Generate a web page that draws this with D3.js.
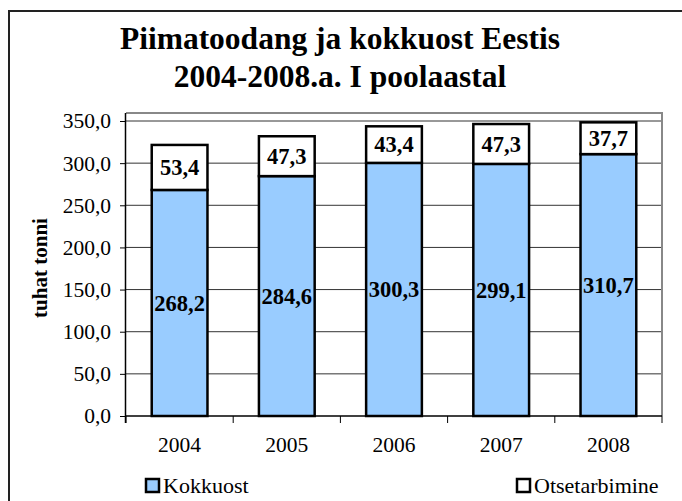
<!DOCTYPE html>
<html>
<head>
<meta charset="utf-8">
<script src="https://cdn.jsdelivr.net/npm/d3@7"></script>
<style>
  body { margin: 0; background: #fff; }
</style>
</head>
<body>
<svg id="chart" width="682" height="501" font-family="Liberation Serif"></svg>
<script>
// chart data
const years = ["2004", "2005", "2006", "2007", "2008"];
const kokkuost = [268.2, 284.6, 300.3, 299.1, 310.7];
const otsetarbimine = [53.4, 47.3, 43.4, 47.3, 37.7];
const yTicks = [0, 50, 100, 150, 200, 250, 300, 350];
const seriesNames = ["Kokkuost", "Otsetarbimine"];
const seriesColors = ["#99ccff", "#ffffff"];

const FONT = "Liberation Serif";
const svg = d3.select("#chart");
const fmt = v => d3.format(".1f")(v).replace(".", ",");

// outer frame (runs off the right and bottom edge)
svg.append("path")
    .attr("d", "M9,501 L9,11 L682,11")
    .attr("fill", "none")
    .attr("stroke", "#222")
    .attr("stroke-width", 2);

// title
const title = svg.append("text")
    .attr("text-anchor", "middle")
    .attr("font-family", FONT)
    .attr("font-size", 31.5)
    .attr("font-weight", "bold");
title.append("tspan").attr("x", 340).attr("y", 49).text("Piimatoodang ja kokkuost Eestis");
title.append("tspan").attr("x", 340).attr("y", 87).text("2004-2008.a. I poolaastal");

const plotLeft = 126, plotRight = 662, plotTop = 113, plotBottom = 416;

const x = d3.scaleBand()
    .domain(years)
    .range([plotLeft, plotRight])
    .paddingInner(0.48)
    .paddingOuter(0.24);

const y = d3.scaleLinear()
    .domain([0, 350])
    .range([plotBottom, 121]);

// gridlines
svg.append("g")
    .selectAll("line")
    .data(yTicks.filter(d => d > 0))
    .join("line")
    .attr("x1", plotLeft).attr("x2", plotRight)
    .attr("y1", d => y(d)).attr("y2", d => y(d))
    .attr("stroke", "#333")
    .attr("stroke-width", 1);

// plot area border (top and right, gray)
svg.append("path")
    .attr("d", `M${plotLeft},${plotTop} L${plotRight},${plotTop} L${plotRight},${plotBottom}`)
    .attr("fill", "none")
    .attr("stroke", "#888")
    .attr("stroke-width", 2);

// stacked bars
const stackData = years.map((yr, i) => ({ year: yr, Kokkuost: kokkuost[i], Otsetarbimine: otsetarbimine[i] }));
const stacked = d3.stack().keys(seriesNames)(stackData);

const layers = svg.append("g")
    .selectAll("g")
    .data(stacked)
    .join("g")
    .attr("fill", (d, i) => seriesColors[i]);

layers.selectAll("rect")
    .data(d => d)
    .join("rect")
    .attr("x", d => x(d.data.year))
    .attr("width", x.bandwidth())
    .attr("y", d => y(d[1]))
    .attr("height", d => y(d[0]) - y(d[1]))
    .attr("stroke", "#000")
    .attr("stroke-width", 2.5);

layers.selectAll("text")
    .data(d => d.map(v => ({ v, key: d.key })))
    .join("text")
    .attr("x", d => x(d.v.data.year) + x.bandwidth() / 2)
    .attr("y", d => (y(d.v[0]) + y(d.v[1])) / 2)
    .attr("dy", "0.35em")
    .attr("text-anchor", "middle")
    .attr("fill", "#000")
    .attr("font-family", FONT)
    .attr("font-size", 22.5)
    .attr("font-weight", "bold")
    .text(d => fmt(d.v.data[d.key]));

// y axis
const yAxis = svg.append("g")
    .attr("transform", `translate(${plotLeft},0)`)
    .call(d3.axisLeft(y).tickValues(yTicks).tickSize(6).tickPadding(9).tickFormat(fmt))
    .attr("font-family", FONT)
    .attr("font-size", 21.5);
yAxis.select(".domain").attr("stroke", "#000").attr("stroke-width", 1.5).attr("d", `M-0.5,${plotBottom + 7}V${plotTop}`);
yAxis.selectAll(".tick line").attr("stroke", "#000");
yAxis.selectAll(".tick text").attr("fill", "#000");

// x axis
const xAxis = svg.append("g")
    .attr("transform", `translate(0,${plotBottom})`)
    .call(d3.axisBottom(x).tickSize(0).tickPadding(21))
    .attr("font-family", FONT)
    .attr("font-size", 21.5);
xAxis.select(".domain").attr("stroke", "#000").attr("stroke-width", 1.5).attr("d", `M${plotLeft},0H${plotRight}`);
xAxis.selectAll(".tick text").attr("fill", "#000");

// category boundary ticks
const step = x.step();
svg.append("g")
    .selectAll("line")
    .data(d3.range(years.length + 1))
    .join("line")
    .attr("x1", i => plotLeft + i * step).attr("x2", i => plotLeft + i * step)
    .attr("y1", plotBottom).attr("y2", plotBottom + 7)
    .attr("stroke", "#000");

// y axis title
svg.append("text")
    .attr("transform", "translate(47,268) rotate(-90)")
    .attr("text-anchor", "middle")
    .attr("font-family", FONT)
    .attr("font-size", 21)
    .attr("font-weight", "bold")
    .text("tuhat tonni");

// legend
const legendPos = [146, 517];
const legend = svg.append("g")
    .selectAll("g")
    .data(seriesNames)
    .join("g")
    .attr("transform", (d, i) => `translate(${legendPos[i]},479)`);
legend.append("rect")
    .attr("width", 13).attr("height", 13)
    .attr("fill", (d, i) => seriesColors[i])
    .attr("stroke", "#000")
    .attr("stroke-width", 2.5);
legend.append("text")
    .attr("x", 17).attr("y", 14)
    .attr("font-family", FONT)
    .attr("font-size", 22)
    .text(d => d);
</script>
</body>
</html>
